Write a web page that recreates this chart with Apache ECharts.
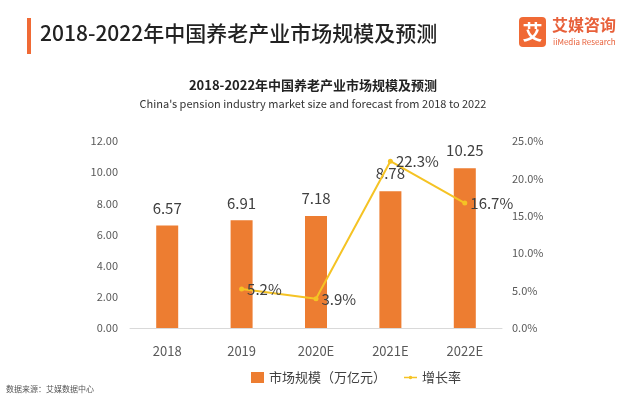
<!DOCTYPE html>
<html>
<head>
<meta charset="utf-8">
<script src="https://cdn.jsdelivr.net/npm/echarts@6/dist/echarts.min.js"></script>
<style>
  html, body { margin: 0; padding: 0; background: #fff; }
  #main { width: 627px; height: 397px; }
</style>
</head>
<body>
<div id="main"></div>
<script>
var years = ['2018', '2019', '2020E', '2021E', '2022E'];
var marketSize = [6.57, 6.91, 7.18, 8.78, 10.25];
var growthRate = [null, 5.2, 3.9, 22.3, 16.7];

var chart = echarts.init(document.getElementById('main'));
var font = '"Noto Sans CJK SC", "Noto Sans", sans-serif';

var option = {
    backgroundColor: '#fff',
    textStyle: { fontFamily: font },
    animation: false,
    grid: { left: 130, right: 125, top: 141, bottom: 69 },
    graphic: [
        { type: 'rect', shape: { x: 27, y: 18, width: 4, height: 36 }, style: { fill: '#F06A35' } },
        { type: 'text', left: 40, top: 23, style: { text: '2018-2022年中国养老产业市场规模及预测', font: '500 21px ' + font, fill: '#222' } },
        { type: 'rect', shape: { x: 519, y: 17, width: 27, height: 30, r: 4 }, style: { fill: '#F06A35' } },
        { type: 'text', x: 532.5, y: 32, style: { text: '艾', font: 'bold 20px ' + font, fill: '#fff', align: 'center', verticalAlign: 'middle' } },
        { type: 'text', left: 552, top: 17, style: { text: '艾媒咨询', font: 'bold 16px ' + font, fill: '#E8603A' } },
        { type: 'text', left: 553, top: 38, style: { text: 'iiMedia Research', font: '8px ' + font, fill: '#E8603A' } },
        { type: 'text', x: 313, y: 85, style: { text: '2018-2022年中国养老产业市场规模及预测', font: 'bold 13px ' + font, fill: '#222', align: 'center', verticalAlign: 'middle' } },
        { type: 'text', x: 313, y: 104, style: { text: "China's pension industry market size and forecast from 2018 to 2022", font: '11px ' + font, fill: '#333', align: 'center', verticalAlign: 'middle' } },
        { type: 'text', left: 6, top: 385, style: { text: '数据来源：艾媒数据中心', font: '8px ' + font, fill: '#555' } }
    ],
    legend: {
        bottom: 8,
        left: 246,
        itemGap: 18,
        itemWidth: 13,
        itemHeight: 11,
        textStyle: { fontSize: 13, color: '#404040' },
        data: [
            { name: '市场规模（万亿元）', icon: 'rect' },
            { name: '增长率', icon: 'path://M0,5L16,5L16,7L0,7Z M8,3.8A2.2,2.2 0 1 1 7.99,3.8Z' }
        ]
    },
    xAxis: {
        type: 'category',
        data: years,
        axisLine: { lineStyle: { color: '#D9D9D9' } },
        axisTick: { show: false },
        axisLabel: { color: '#595959', fontSize: 13, margin: 17 }
    },
    yAxis: [
        {
            type: 'value', min: 0, max: 12, interval: 2,
            axisLine: { show: false }, axisTick: { show: false },
            splitLine: { show: false },
            axisLabel: { color: '#595959', fontSize: 11, margin: 12, formatter: function (v) { return v.toFixed(2); } }
        },
        {
            type: 'value', min: 0, max: 25, interval: 5,
            axisLine: { show: false }, axisTick: { show: false },
            splitLine: { show: false },
            axisLabel: { color: '#595959', fontSize: 11, margin: 10, formatter: function (v) { return v.toFixed(1) + '%'; } }
        }
    ],
    series: [
        {
            name: '市场规模（万亿元）',
            type: 'bar',
            data: marketSize,
            barWidth: 22,
            itemStyle: { color: '#ED7D31' },
            label: { show: true, position: 'top', distance: 10, color: '#404040', fontSize: 15, formatter: function (p) { return p.value.toFixed(2); } }
        },
        {
            name: '增长率',
            type: 'line',
            yAxisIndex: 1,
            data: growthRate,
            symbol: 'circle',
            symbolSize: 5,
            lineStyle: { color: '#F5C324', width: 2 },
            itemStyle: { color: '#F5C324' },
            label: { show: true, position: 'right', distance: 3, color: '#404040', fontSize: 15, formatter: function (p) { return p.value.toFixed(1) + '%'; } }
        }
    ]
};
chart.setOption(option);
</script>
</body>
</html>
